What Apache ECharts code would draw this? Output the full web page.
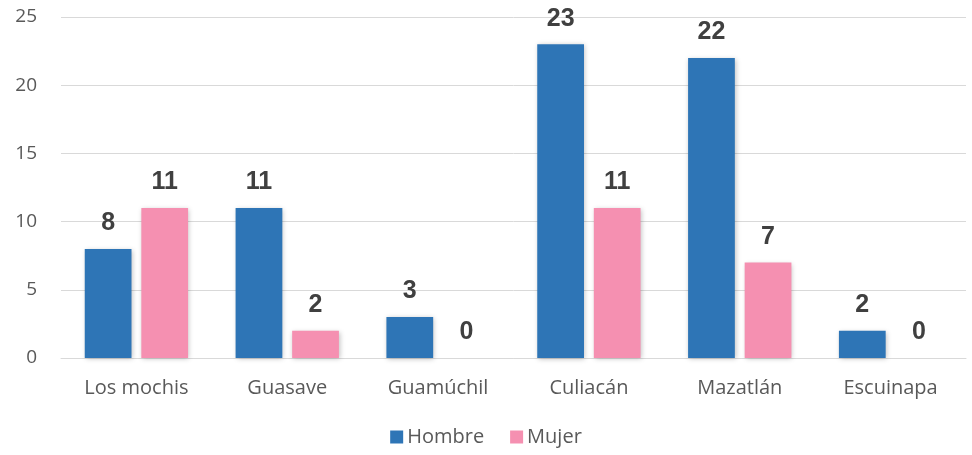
<!DOCTYPE html>
<html><head><meta charset="utf-8">
<script src="https://cdn.jsdelivr.net/npm/echarts@6/dist/echarts.min.js"></script>
<style>html,body{margin:0;padding:0;background:#fff}#c{width:972px;height:455px}</style>
</head><body><div id="c"></div>
<script>
var categories = ["Los mochis", "Guasave", "Guamúchil", "Culiacán", "Mazatlán", "Escuinapa"];
var hombre = [8, 11, 3, 23, 22, 2];
var mujer = [11, 2, 0, 11, 7, 0];
var yTicks = {min: 0, max: 25, interval: 5};

var chart = echarts.init(document.getElementById('c'));
var font = "'Open Sans', sans-serif";
function lbl() {
  return {show: true, position: 'top', distance: 13, color: '#404040', fontSize: 25, fontWeight: 'bold', fontFamily: "'Liberation Sans', Arial, sans-serif"};
}
var shadow = {shadowColor: 'rgba(0,0,0,0.25)', shadowBlur: 5, shadowOffsetX: 1, shadowOffsetY: 1};
chart.setOption({
  animation: false,
  grid: {left: 61, right: 6, top: 17, bottom: 97, containLabel: false},
  legend: {
    bottom: 3, left: 'center', itemWidth: 13, itemHeight: 13, itemGap: 26,
    icon: 'rect',
    textStyle: {color: '#595959', fontSize: 20, fontFamily: font, padding: [0,0,0,-1]},
    data: ['Hombre', 'Mujer']
  },
  xAxis: {
    type: 'category', data: categories,
    axisLine: {show: true, lineStyle: {color: '#d9d9d9', width: 1}},
    axisTick: {show: false},
    axisLabel: {color: '#595959', fontSize: 20, fontFamily: font, margin: 20}
  },
  yAxis: {
    type: 'value', min: yTicks.min, max: yTicks.max, interval: yTicks.interval,
    axisLine: {show: false}, axisTick: {show: false},
    splitLine: {lineStyle: {color: '#d9d9d9', width: 1}},
    axisLabel: {color: '#595959', fontSize: 19, fontFamily: font, margin: 24}
  },
  series: [
    {name: 'Hombre', type: 'bar', data: hombre, barWidth: '31%', barGap: '21%',
     itemStyle: Object.assign({color: '#2E75B6'}, shadow), label: lbl()},
    {name: 'Mujer', type: 'bar', data: mujer, barWidth: '31%',
     itemStyle: Object.assign({color: '#F590B1'}, shadow), label: lbl()}
  ]
});
</script></body></html>
